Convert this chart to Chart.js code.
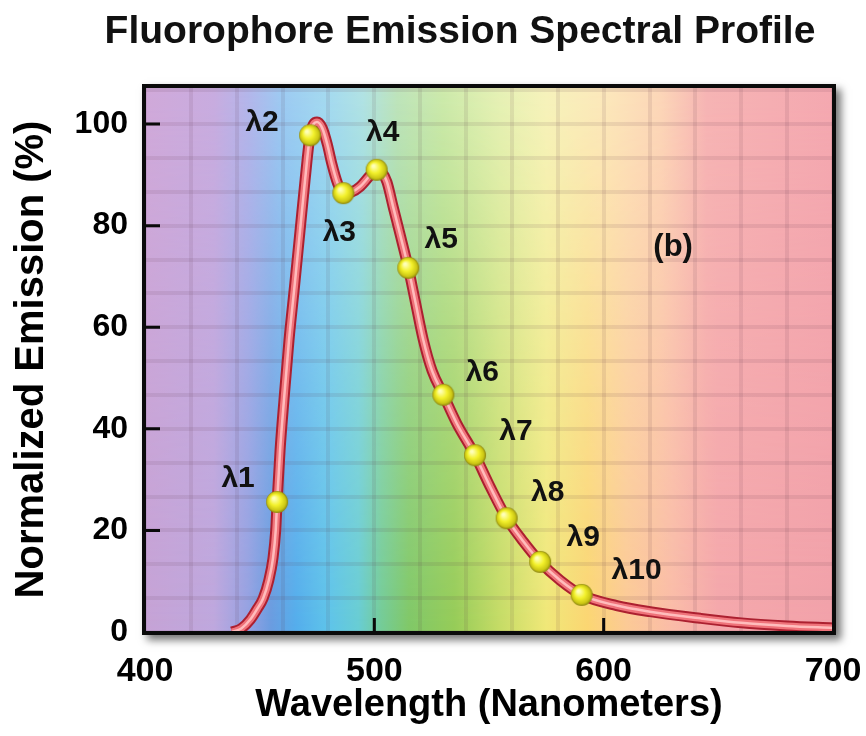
<!DOCTYPE html>
<html>
<head>
<meta charset="utf-8">
<script src="https://cdn.jsdelivr.net/npm/chart.js@4.4.1/dist/chart.umd.min.js"></script>
<style>
  html, body { margin: 0; padding: 0; background: #fff; }
  #wrap { width: 866px; height: 736px; }
</style>
</head>
<body>
<div id="wrap"><canvas id="spectrumChart" width="866" height="736"></canvas></div>
<script>
// =====================================
// DATA
// =====================================

const curveWavelengths = [
  438, 442, 446, 449, 451.5, 454, 455.8, 457, 457.6, 458.9, 460.6, 462.8, 465.3, 467.6,
  469.8, 472, 475, 477.3, 479.5, 481.4, 484, 486.5, 490, 493.8, 498, 501, 503.5, 505.5,
  508.2, 511.5, 514.8, 517.8, 521.2, 525.2, 530.1, 535.9, 543.9, 550.5, 557.7, 565,
  572.3, 581, 590.4, 605.7, 620.2, 642, 660, 680, 700,
];
const curveEmission = [
  0, 0.7, 2.5, 4.6, 6.6, 10.2, 14.5, 20, 25.6, 35.8, 45.7, 57.5, 68.5, 79,
  89, 97.8, 100.4, 99.2, 96, 92.3, 88.3, 86.4, 86.6, 87.7, 89.8, 91, 90.4, 88.6,
  83.7, 77.8, 71.7, 65.2, 57.8, 51.4, 46.7, 41.1, 34.8, 28.6, 22.4, 17.8,
  13.8, 10.2, 7.3, 5.2, 4.0, 2.7, 1.8, 1.2, 0.8,
];

const markerNames = ['λ1', 'λ2', 'λ3', 'λ4', 'λ5', 'λ6', 'λ7', 'λ8', 'λ9', 'λ10'];
const markerWavelengths = [457.6, 472, 486.5, 501, 514.8, 530.1, 543.9, 557.7, 572.3, 590.4];
const markerEmission = [25.6, 97.8, 86.4, 91, 71.7, 46.7, 34.8, 22.4, 13.8, 7.3];

const xTickValues = [400, 500, 600, 700];
const yTickValues = [0, 20, 40, 60, 80, 100];

const chartTitle = 'Fluorophore Emission Spectral Profile';
const xTitle = 'Wavelength (Nanometers)';
const yTitle = 'Normalized Emission (%)';
const panelTag = '(b)';

// =====================================
// STYLE
// =====================================

const FONT = '"Liberation Sans", Arial, Helvetica, sans-serif';
const GRID = 'rgba(90,50,70,0.10)';

// label offsets from each marker, in pixels
const markerLabelOffsets = [
  [-39, -23], [-48, -13], [-4, 40], [6, -37], [33, -28],
  [39, -22], [41, -24], [41, -25], [43, -24], [55, -24],
];
const panelTagPos = { x: 630.3, y: 75.8 };

// spectrum colours: [nm, colour]
const spectrumBottom = [
  [400, '#c6a3d6'], [430, '#bfa8de'], [445, '#95a2e2'], [455, '#6a9ce0'],
  [466, '#54aeec'], [480, '#5ec4ea'], [493, '#68cdd4'], [503, '#74cc98'],
  [515, '#80c868'], [535, '#96cc58'], [555, '#c6dc66'], [575, '#f0e878'],
  [593, '#fbd672'], [610, '#fcca96'], [630, '#fabca8'], [650, '#f5a8ac'], [700, '#f2a2aa'],
];
const spectrumTop = [
  [400, '#d0a9d9'], [430, '#c8acdf'], [445, '#b4b6ea'], [460, '#9ecbf2'],
  [480, '#a6daef'], [495, '#b2e2e4'], [510, '#bfe4bc'], [530, '#cdeaac'],
  [555, '#e6f1b6'], [575, '#f6f2bc'], [600, '#fce8bc'], [625, '#fcd6b8'],
  [645, '#f6b4b4'], [700, '#f4a8b0'],
];

// =====================================
// HELPERS
// =====================================

function makeBall(r) {
  const size = r * 2 + 2;
  const c = document.createElement('canvas');
  c.width = size;
  c.height = size;
  const g = c.getContext('2d');
  const mid = size / 2;
  const grad = g.createRadialGradient(mid - r * 0.3, mid - r * 0.35, r * 0.1, mid, mid, r);
  grad.addColorStop(0, '#ffffb8');
  grad.addColorStop(0.45, '#f3f12c');
  grad.addColorStop(0.82, '#cbc614');
  grad.addColorStop(1, '#8a8410');
  g.fillStyle = grad;
  g.beginPath();
  g.arc(mid, mid, r, 0, Math.PI * 2);
  g.fill();
  return c;
}

function spectrumGradient(ctx, xScale, stops) {
  const a = xScale.getPixelForValue(400);
  const b = xScale.getPixelForValue(700);
  const grad = ctx.createLinearGradient(a, 0, b, 0);
  stops.forEach(([nm, col]) => grad.addColorStop((nm - 400) / 300, col));
  return grad;
}

const curvePoints = curveWavelengths.map((x, i) => ({ x, y: curveEmission[i] }));
const markerPoints = markerWavelengths.map((x, i) => ({ x, y: markerEmission[i] }));

// =====================================
// PLUGINS
// =====================================

const spectrumBackground = {
  id: 'spectrumBackground',
  beforeDraw(chart) {
    const { ctx, chartArea: a, scales } = chart;
    const w = a.right - a.left;
    const h = a.bottom - a.top;

    // drop shadow of the frame
    ctx.save();
    ctx.shadowColor = 'rgba(0,0,0,0.55)';
    ctx.shadowBlur = 8;
    ctx.shadowOffsetX = 5;
    ctx.shadowOffsetY = 5;
    ctx.fillStyle = '#000';
    ctx.fillRect(a.left - 3, a.top - 3, w + 6, h + 6);
    ctx.restore();

    ctx.save();
    ctx.fillStyle = spectrumGradient(ctx, scales.x, spectrumBottom);
    ctx.fillRect(a.left, a.top, w, h);

    // paler version fading in towards the top
    const off = document.createElement('canvas');
    off.width = chart.width;
    off.height = chart.height;
    const o = off.getContext('2d');
    o.fillStyle = spectrumGradient(o, scales.x, spectrumTop);
    o.fillRect(a.left, a.top, w, h);
    o.globalCompositeOperation = 'destination-in';
    const fade = o.createLinearGradient(0, a.top, 0, a.bottom);
    fade.addColorStop(0, 'rgba(0,0,0,1)');
    fade.addColorStop(0.55, 'rgba(0,0,0,0.4)');
    fade.addColorStop(1, 'rgba(0,0,0,0)');
    o.fillStyle = fade;
    o.fillRect(a.left, a.top, w, h);
    ctx.drawImage(off, 0, 0);
    ctx.restore();
  },
};

const frameAndLabels = {
  id: 'frameAndLabels',
  afterDatasetsDraw(chart) {
    const { ctx, chartArea: a, scales } = chart;
    const xs = scales.x;
    const ys = scales.y;
    ctx.save();

    // frame
    ctx.strokeStyle = '#0a0a0a';
    ctx.lineWidth = 4;
    ctx.strokeRect(a.left - 1, a.top - 1, a.right - a.left + 2, a.bottom - a.top + 2);

    // inner tick marks
    ctx.lineWidth = 3;
    ctx.beginPath();
    yTickValues.slice(1).forEach((v) => {
      const y = ys.getPixelForValue(v);
      ctx.moveTo(a.left, y);
      ctx.lineTo(a.left + 15, y);
    });
    xTickValues.slice(1, -1).forEach((v) => {
      const x = xs.getPixelForValue(v);
      ctx.moveTo(x, a.bottom);
      ctx.lineTo(x, a.bottom - 14);
    });
    ctx.stroke();

    // marker labels
    ctx.fillStyle = '#111';
    ctx.textAlign = 'center';
    ctx.textBaseline = 'middle';
    ctx.font = 'bold 30px ' + FONT;
    markerNames.forEach((name, i) => {
      const x = xs.getPixelForValue(markerWavelengths[i]) + markerLabelOffsets[i][0];
      const y = ys.getPixelForValue(markerEmission[i]) + markerLabelOffsets[i][1];
      ctx.fillText(name, x, y);
    });

    ctx.font = 'bold 31px ' + FONT;
    ctx.fillText(panelTag, xs.getPixelForValue(panelTagPos.x), ys.getPixelForValue(panelTagPos.y));

    // chart title
    ctx.textBaseline = 'alphabetic';
    ctx.font = 'bold 39px ' + FONT;
    ctx.fillText(chartTitle, 460, 43);
    ctx.restore();
  },
};

// =====================================
// CHART
// =====================================

Chart.defaults.font.family = FONT;
Chart.defaults.color = '#000';

new Chart(document.getElementById('spectrumChart'), {
  type: 'line',
  data: {
    datasets: [
      {
        data: markerPoints,
        showLine: false,
        pointStyle: makeBall(11),
        pointRadius: 11,
        order: 0,
      },
      {
        data: curvePoints,
        borderColor: '#ffbcbc',
        borderWidth: 2.5,
        pointRadius: 0,
        cubicInterpolationMode: 'monotone',
        order: 1,
      },
      {
        data: curvePoints,
        borderColor: '#ef737a',
        borderWidth: 7,
        pointRadius: 0,
        cubicInterpolationMode: 'monotone',
        order: 2,
      },
      {
        data: curvePoints,
        borderColor: '#ac2030',
        borderWidth: 11,
        pointRadius: 0,
        cubicInterpolationMode: 'monotone',
        order: 3,
      },
    ],
  },
  options: {
    responsive: false,
    animation: false,
    events: [],
    layout: { padding: { top: 87, right: 33, left: 0, bottom: 0 } },
    plugins: {
      legend: { display: false },
      tooltip: { enabled: false },
    },
    scales: {
      x: {
        type: 'linear',
        min: 400,
        max: 700,
        afterFit: (scale) => {
          scale.height = 104;
          scale.paddingLeft = 0;
          scale.paddingRight = 0;
        },
        border: { display: false },
        grid: { color: GRID, lineWidth: 4, drawTicks: false },
        ticks: {
          stepSize: 20,
          autoSkip: false,
          maxRotation: 0,
          padding: 19,
          font: { size: 34, weight: 'bold' },
          callback: (v) => (xTickValues.includes(v) ? String(v) : ''),
        },
        title: {
          display: true,
          text: xTitle,
          font: { size: 38, weight: 'bold' },
          padding: { top: 0, bottom: 8 },
        },
      },
      y: {
        min: 0,
        max: 107.3,
        afterFit: (scale) => {
          scale.width = 145;
          scale.paddingTop = 0;
          scale.paddingBottom = 0;
        },
        afterBuildTicks: (scale) => {
          const ticks = [];
          for (let k = 0; (k * 20) / 3 <= scale.max + 1e-6; k++) ticks.push({ value: (k * 20) / 3 });
          scale.ticks = ticks;
        },
        border: { display: false },
        grid: { color: GRID, lineWidth: 4, drawTicks: false },
        ticks: {
          autoSkip: false,
          padding: 17,
          font: { size: 32, weight: 'bold' },
          callback: (v) => {
            const t = yTickValues.find((t) => Math.abs(t - v) < 0.01);
            return t === undefined ? '' : String(t);
          },
        },
        title: {
          display: true,
          text: yTitle,
          font: { size: 40, weight: 'bold' },
          padding: { top: 8, bottom: 0 },
        },
      },
    },
  },
  plugins: [spectrumBackground, frameAndLabels],
});
</script>
</body>
</html>
